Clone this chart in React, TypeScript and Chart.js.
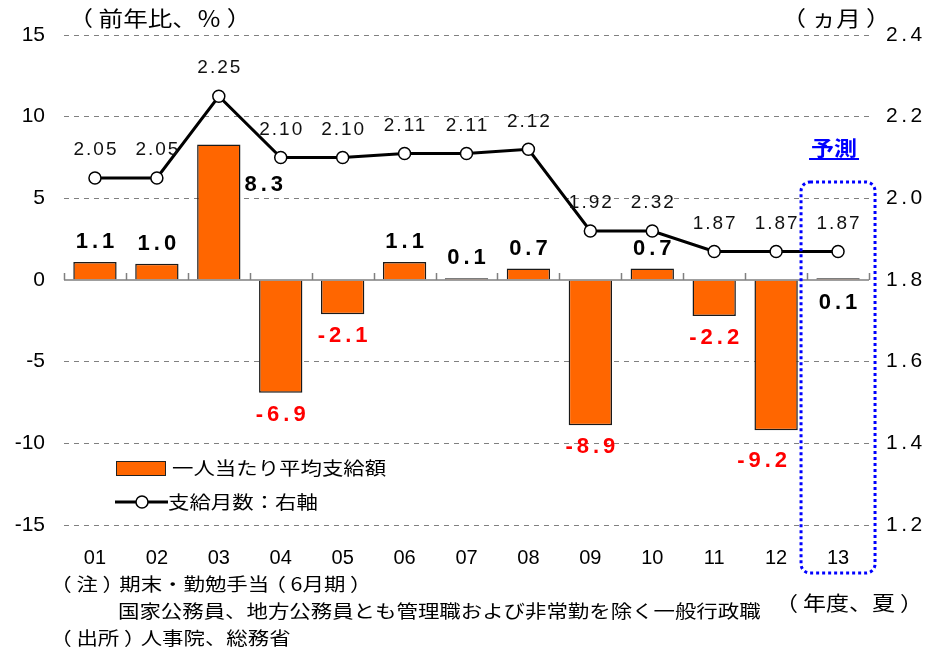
import React, { useEffect, useRef } from "react";
import { Chart, registerables } from "chart.js";

Chart.register(...registerables);

// ---- data ----
const categories = ["01", "02", "03", "04", "05", "06", "07", "08", "09", "10", "11", "12", "13"];
const payChange = [1.1, 1.0, 8.3, -6.9, -2.1, 1.1, 0.1, 0.7, -8.9, 0.7, -2.2, -9.2, 0.1];
const payLabels = ["1.1", "1.0", "8.3", "-6.9", "-2.1", "1.1", "0.1", "0.7", "-8.9", "0.7", "-2.2", "-9.2", "0.1"];
const monthsPaid = [2.05, 2.05, 2.25, 2.1, 2.1, 2.11, 2.11, 2.12, 1.92, 1.92, 1.87, 1.87, 1.87];
const monthsLabels = ["2.05", "2.05", "2.25", "2.10", "2.10", "2.11", "2.11", "2.12", "1.92", "2.32", "1.87", "1.87", "1.87"];
const rightTickValues = [1.2, 1.4, 1.6, 1.8, 2.0, 2.2, 2.4];
const rightTickLabels = ["1.2", "1.4", "1.6", "1.8", "2.0", "2.2", "2.4"];
const forecastIndex = 12;

const seriesNames = ["一人当たり平均支給額", "支給月数：右軸"];
const leftUnit = "（前年比、％）";
const rightUnit = "（ヵ月）";
const xUnit = "（年度、夏）";
const forecastText = "予測";
const notes = [
  "（注）期末・勤勉手当（6月期）",
  "国家公務員、地方公務員とも管理職および非常勤を除く一般行政職",
  "（出所）人事院、総務省",
];

const ORANGE = "#FF6600";
const JP = "'Noto Sans CJK JP', 'Noto Sans CJK SC', sans-serif";
const SANS = "'Liberation Sans', Arial, sans-serif";

type TOpt = { font: string; color?: string; align?: CanvasTextAlign; spacing?: number; sx?: number };
function txt(ctx: CanvasRenderingContext2D, s: string, x: number, y: number, o: TOpt) {
  ctx.save();
  ctx.font = o.font;
  ctx.fillStyle = o.color || "#000";
  ctx.textBaseline = "middle";
  const align = o.align || "left";
  ctx.textAlign = align;
  const sp = o.spacing || 0;
  (ctx as any).letterSpacing = sp + "px";
  const sx = o.sx || 1;
  const shift = align === "center" ? (sp * sx) / 2 : align === "right" ? sp * sx : 0;
  ctx.translate(x + shift, y);
  ctx.scale(sx, 1);
  ctx.fillText(s, 0, 0);
  ctx.restore();
}

// Japanese text with full-width parentheses centred in their cell
function jp(ctx: CanvasRenderingContext2D, s: string, x: number, y: number, size: number, sx: number) {
  ctx.save();
  ctx.font = `${size}px ${JP}`;
  ctx.fillStyle = "#000";
  ctx.textBaseline = "middle";
  ctx.textAlign = "left";
  (ctx as any).letterSpacing = "0px";
  const parts = s.split(/([（）])/).filter((p) => p.length > 0);
  let cx = x;
  for (const p of parts) {
    const w = ctx.measureText(p).width * sx;
    const off = p === "（" ? -0.22 * size * sx : p === "）" ? 0.22 * size * sx : 0;
    ctx.save();
    ctx.translate(cx + off, y);
    ctx.scale(sx, 1);
    ctx.fillText(p, 0, 0);
    ctx.restore();
    cx += w;
  }
  ctx.restore();
}

// label nudges for bar value labels (dx, dy)
const barNudge: Record<number, [number, number]> = { 2: [45, 61], 11: [-14, 9], 12: [0, 45] };

const annotations = {
  id: "annotations",
  afterDatasetsDraw(chart: any) {
    const ctx: CanvasRenderingContext2D = chart.ctx;
    const { left, right, bottom } = chart.chartArea;
    const xs = chart.scales.x;
    const ys = chart.scales.y;
    const y2 = chart.scales.y2;

    // zero axis with category tick marks
    const y0 = ys.getPixelForValue(0);
    ctx.save();
    ctx.strokeStyle = "#808080";
    ctx.lineWidth = 1.5;
    ctx.beginPath();
    ctx.moveTo(left, y0);
    ctx.lineTo(right, y0);
    const step = (right - left) / categories.length;
    for (let i = 0; i <= categories.length; i++) {
      const xx = Math.round(left + step * i) + 0.5;
      ctx.moveTo(xx, y0);
      ctx.lineTo(xx, y0 - 7);
    }
    ctx.stroke();
    ctx.restore();

    // bar labels
    const barMeta = chart.getDatasetMeta(0);
    barMeta.data.forEach((el: any, i: number) => {
      const v = payChange[i];
      const n = barNudge[i] || [0, 0];
      const yy = v >= 0 ? el.y - 20 : el.y + 22;
      txt(ctx, payLabels[i], el.x + n[0], yy + n[1], {
        font: `bold 22px ${SANS}`,
        color: v < 0 ? "#FF0000" : "#000",
        align: "center",
        spacing: 4,
      });
    });

    // line labels
    const lineMeta = chart.getDatasetMeta(1);
    lineMeta.data.forEach((el: any, i: number) => {
      txt(ctx, monthsLabels[i], el.x, el.y - 28, {
        font: `19px ${SANS}`,
        color: "#111",
        align: "center",
        spacing: 2,
      });
    });

    // right axis tick labels
    rightTickValues.forEach((v, i) => {
      txt(ctx, rightTickLabels[i], right + 17, y2.getPixelForValue(v), {
        font: `21px ${SANS}`,
        color: "#000",
        spacing: 3.5,
      });
    });

    // forecast box
    const fx = xs.getPixelForValue(forecastIndex);
    const bx0 = fx - 37;
    const bx1 = fx + 37;
    const by0 = ys.getPixelForValue(6);
    const by1 = bottom + 48;
    ctx.save();
    ctx.strokeStyle = "#0000FF";
    ctx.lineWidth = 3;
    ctx.setLineDash([3, 3]);
    ctx.beginPath();
    (ctx as any).roundRect(bx0, by0, bx1 - bx0, by1 - by0, 9);
    ctx.stroke();
    ctx.restore();
    txt(ctx, forecastText, fx - 4, by0 - 34, { font: `bold 20px ${JP}`, color: "#0000FF", align: "center", sx: 1.15 });
    ctx.save();
    ctx.strokeStyle = "#0000FF";
    ctx.lineWidth = 2;
    ctx.beginPath();
    ctx.moveTo(fx - 29, by0 - 23);
    ctx.lineTo(fx + 21, by0 - 23);
    ctx.stroke();
    ctx.restore();

    // legend
    ctx.save();
    ctx.fillStyle = ORANGE;
    ctx.strokeStyle = "#222";
    ctx.lineWidth = 1;
    ctx.fillRect(116, 461, 49, 14);
    ctx.strokeRect(116.5, 461.5, 49, 14);
    ctx.strokeStyle = "#000";
    ctx.lineWidth = 3;
    ctx.beginPath();
    ctx.moveTo(115, 502);
    ctx.lineTo(168, 502);
    ctx.stroke();
    ctx.fillStyle = "#fff";
    ctx.lineWidth = 1.5;
    ctx.beginPath();
    ctx.arc(142, 502, 6, 0, Math.PI * 2);
    ctx.fill();
    ctx.stroke();
    ctx.restore();
    jp(ctx, seriesNames[0], 172, 468, 18, 1.19);
    jp(ctx, seriesNames[1], 168, 502, 18, 1.19);

    // unit labels
    jp(ctx, leftUnit, 74, 18, 21, 1.17);
    jp(ctx, rightUnit, 787, 18, 21, 1.17);
    jp(ctx, xUnit, 780, 603, 20, 1.15);

    // notes
    jp(ctx, notes[0], 55, 584, 18, 1.19);
    jp(ctx, notes[1], 118, 611, 18, 1.19);
    jp(ctx, notes[2], 55, 638, 18, 1.19);
  },
};

export default function App() {
  const ref = useRef<HTMLCanvasElement | null>(null);
  useEffect(() => {
    if (!ref.current) return;
    const chart = new Chart(ref.current, {
      type: "bar",
      data: {
        labels: categories,
        datasets: [
          {
            type: "bar",
            label: seriesNames[0],
            data: payChange,
            yAxisID: "y",
            backgroundColor: ORANGE,
            borderColor: "#1a1a1a",
            borderWidth: 1.5,
            categoryPercentage: 0.7,
            barPercentage: 1.0,
            order: 2,
          } as any,
          {
            type: "line",
            label: seriesNames[1],
            data: monthsPaid,
            yAxisID: "y2",
            borderColor: "#000",
            borderWidth: 3,
            pointRadius: 6,
            pointBackgroundColor: "#fff",
            pointBorderColor: "#000",
            pointBorderWidth: 1.5,
            tension: 0,
            order: 1,
          } as any,
        ],
      },
      options: {
        animation: false,
        responsive: false,
        devicePixelRatio: 1,
        layout: { padding: { top: 35, left: 0, right: 0, bottom: 0 } },
        plugins: {
          legend: { display: false },
          tooltip: { enabled: false },
        },
        scales: {
          x: {
            type: "category",
            grid: { display: false, drawTicks: false },
            border: { display: false },
            ticks: {
              color: "#000",
              font: { family: SANS, size: 20 },
              padding: 21,
              maxRotation: 0,
              autoSkip: false,
            },
            afterFit(s: any) {
              s.height = 129;
            },
          },
          y: {
            position: "left",
            min: -15,
            max: 15,
            ticks: { stepSize: 5, color: "#000", font: { family: SANS, size: 21 }, padding: 19 },
            grid: {
              drawTicks: false,
              color: (c: any) => (c.tick && c.tick.value === 0 ? "rgba(0,0,0,0)" : "#808080"),
              lineWidth: 1,
            },
            border: { display: false, dash: [5, 5] },
            afterFit(s: any) {
              s.width = 64;
            },
          },
          y2: {
            position: "right",
            min: 1.2,
            max: 2.4,
            ticks: { stepSize: 0.2, display: false },
            grid: { display: false, drawTicks: false },
            border: { display: false },
            afterFit(s: any) {
              s.width = 59;
            },
          },
        },
      } as any,
      plugins: [annotations],
    });
    return () => chart.destroy();
  }, []);
  return (
    <div style={{ position: "absolute", left: 0, top: 0, width: 928, height: 654, background: "#fff" }}>
      <canvas ref={ref} width={928} height={654} style={{ display: "block", width: 928, height: 654 }} />
    </div>
  );
}
